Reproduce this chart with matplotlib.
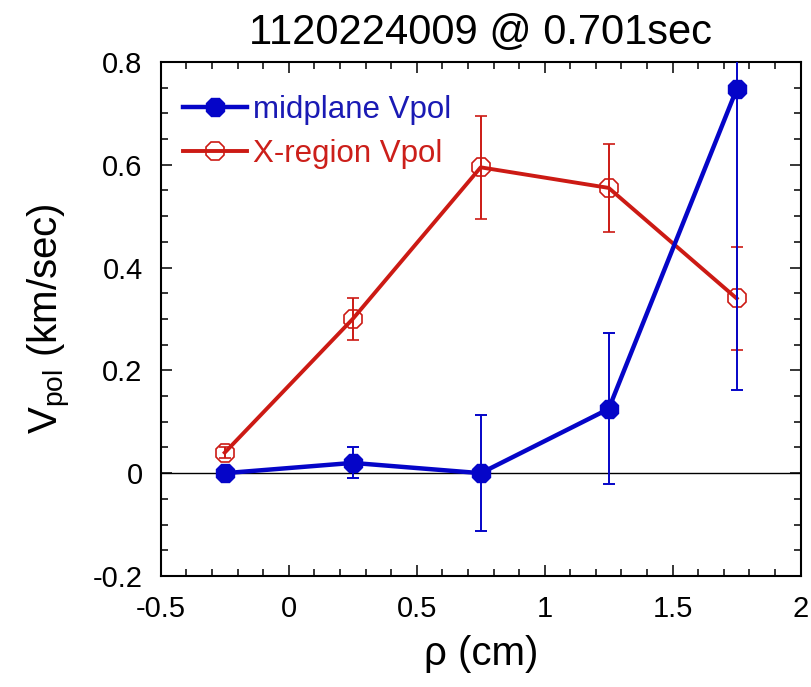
import matplotlib
matplotlib.use('Agg')
import matplotlib.pyplot as plt
from matplotlib.ticker import MultipleLocator, FormatStrFormatter

plt.rcParams['font.family'] = ['Liberation Sans', 'DejaVu Sans']
plt.rcParams['mathtext.fontset'] = 'custom'
plt.rcParams['mathtext.rm'] = 'Liberation Sans'

rho = [-0.25, 0.25, 0.75, 1.25, 1.75]

mid_v = [0.0, 0.02, 0.0, 0.125, 0.747]
mid_err = [0.005, 0.03, 0.113, 0.147, 0.586]

xreg_v = [0.04, 0.30, 0.595, 0.555, 0.34]
xreg_err = [0.01, 0.04, 0.10, 0.085, 0.10]

blue = '#0505c8'
red = '#cc1a14'

fig = plt.figure(figsize=(8.12, 6.87), dpi=100)
ax = fig.add_axes([0.198, 0.1616, 0.788, 0.7482])

ax.axhline(0, color='black', lw=1.0, zorder=1)

ax.errorbar(rho, xreg_v, yerr=xreg_err, color=red, lw=2.8, marker='8',
            ms=14, mfc='none', mec=red, mew=1.2, ecolor=red, elinewidth=1.4,
            capsize=4, capthick=1.4, label='X-region Vpol', zorder=3)
ax.errorbar(rho, mid_v, yerr=mid_err, color=blue, lw=3.2, marker='8',
            ms=14, mfc=blue, mec=blue, ecolor=blue, elinewidth=1.4,
            capsize=4, capthick=1.4, label='midplane Vpol', zorder=4)

ax.set_xlim(-0.5, 2)
ax.set_ylim(-0.2, 0.8)
ax.xaxis.set_major_locator(MultipleLocator(0.5))
ax.xaxis.set_minor_locator(MultipleLocator(0.1))
ax.yaxis.set_major_locator(MultipleLocator(0.2))
ax.yaxis.set_minor_locator(MultipleLocator(0.05))
ax.xaxis.set_major_formatter(FormatStrFormatter('%g'))
ax.yaxis.set_major_formatter(FormatStrFormatter('%g'))
ax.tick_params(which='both', direction='in', top=True, right=True,
               labelsize=21, width=1.1)
ax.tick_params(which='major', length=8)
ax.tick_params(which='minor', length=5)
ax.tick_params(axis='x', which='major', pad=14)
ax.tick_params(axis='y', which='major', pad=13)
for s in ax.spines.values():
    s.set_linewidth(1.5)

ax.set_title('1120224009 @ 0.701sec', fontsize=30, pad=13)
ax.set_xlabel('ρ (cm)', fontsize=29, labelpad=8)
ax.set_ylabel(r'V$_{\mathrm{pol}}$ (km/sec)', fontsize=29, labelpad=14)

# legend: markers only, no error bars in handles
h = [
    plt.Line2D([], [], color=blue, lw=3.2, marker='8', ms=14, mfc=blue, mec=blue),
    plt.Line2D([], [], color=red, lw=2.8, marker='8', ms=14, mfc='none', mec=red, mew=1.2),
]
leg = ax.legend(h, ['midplane Vpol', 'X-region Vpol'], loc='upper left',
                bbox_to_anchor=(0.034, 0.936), frameon=False, fontsize=22.5,
                handlelength=2.05, handletextpad=0.22, borderpad=0,
                borderaxespad=0, labelspacing=0.45)
for txt, c in zip(leg.get_texts(), ['#1a1ab4', '#cc1f1a']):
    txt.set_color(c)

fig.savefig('out.png', dpi=100)
